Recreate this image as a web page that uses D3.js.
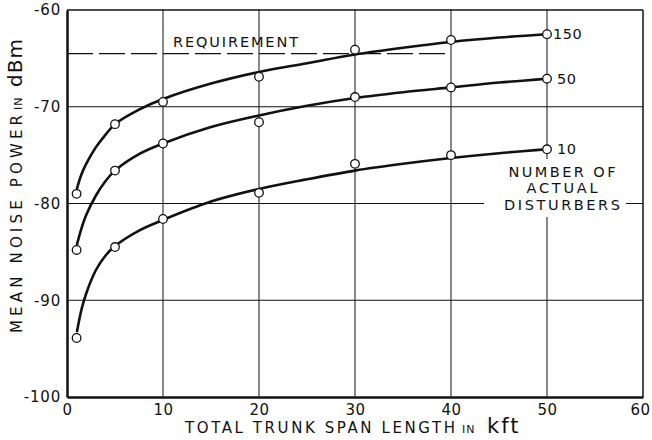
<!DOCTYPE html>
<html>
<head>
<meta charset="utf-8">
<script src="https://cdn.jsdelivr.net/npm/d3@7"></script>
<style>
  html, body { margin: 0; padding: 0; background: #fff; }
  svg { display: block; }
  text { font-family: "DejaVu Sans", "Liberation Sans", sans-serif; fill: #111; }
</style>
</head>
<body>
<svg id="chart" width="652" height="440"></svg>
<script>
// Measured trunk span lengths (kft) and mean noise power (dBm) per disturber count
const lengths = [1, 5, 10, 20, 30, 40, 50];
const noise150 = [-79.0, -71.8, -69.5, -66.9, -64.1, -63.1, -62.5];
const noise50  = [-84.8, -76.6, -73.8, -71.6, -69.0, -68.0, -67.1];
const noise10  = [-93.9, -84.5, -81.6, -78.9, -75.9, -75.0, -74.4];

// Smoothed (faired) curves drawn through the measurements
const fitLengths = [1.05, 1.5, 2, 3, 4, 5, 7.5, 10, 15, 20, 25, 30, 35, 40, 45, 50];
const fit150 = [-78.4, -77.0, -75.9, -74.2, -72.9, -71.8, -70.3, -69.2, -67.6, -66.4, -65.5, -64.6, -63.9, -63.3, -62.85, -62.5];
const fit50  = [-84.2, -82.6, -81.2, -79.2, -77.7, -76.6, -74.9, -73.8, -72.1, -70.9, -69.9, -69.1, -68.5, -68.0, -67.5, -67.1];
const fit10  = [-93.2, -91.0, -89.3, -86.9, -85.4, -84.4, -82.8, -81.7, -79.8, -78.5, -77.5, -76.6, -75.9, -75.3, -74.8, -74.4];

const seriesNames = ["150", "50", "10"];
const requirement = -64.5;
const requirementEnd = 40;

const xTicks = [0, 10, 20, 30, 40, 50, 60];
const yTicks = [-100, -90, -80, -70, -60];

const svg = d3.select("#chart");
const x = d3.scaleLinear().domain([0, 60]).range([67, 643]);
const y = d3.scaleLinear().domain([-100, -60]).range([397, 10]);
const ink = "#111";

// Grid lines
const grid = svg.append("g");
grid.selectAll("line.v").data(xTicks.slice(1, -1)).join("line")
  .attr("x1", d => x(d)).attr("x2", d => x(d))
  .attr("y1", y(-60)).attr("y2", y(-100))
  .attr("stroke", ink).attr("stroke-width", 1);
grid.selectAll("line.h").data(yTicks.slice(1, -1)).join("line")
  .attr("x1", x(0)).attr("x2", x(60))
  .attr("y1", d => y(d)).attr("y2", d => y(d))
  .attr("stroke", ink).attr("stroke-width", 1);

// Frame: top and right edges
svg.append("line").attr("x1", x(0)).attr("x2", x(60)).attr("y1", y(-60)).attr("y2", y(-60))
  .attr("stroke", ink).attr("stroke-width", 1.5);
svg.append("line").attr("x1", x(60)).attr("x2", x(60)).attr("y1", y(-60)).attr("y2", y(-100))
  .attr("stroke", ink).attr("stroke-width", 1.5);

// Axes
const fmt = d => (d < 0 ? "-" : "") + Math.abs(d);
const xAxis = svg.append("g").attr("transform", `translate(0,${y(-100)})`)
  .call(d3.axisBottom(x).tickValues(xTicks).tickSize(0).tickPadding(7).tickFormat(fmt));
const yAxis = svg.append("g").attr("transform", `translate(${x(0)},0)`)
  .call(d3.axisLeft(y).tickValues(yTicks).tickSize(0).tickPadding(6).tickFormat(fmt));
[xAxis, yAxis].forEach(a => {
  a.select(".domain").attr("stroke", ink).attr("stroke-width", 2.5);
  a.selectAll("text").attr("font-size", 15).attr("fill", ink);
});
yAxis.selectAll("text").attr("letter-spacing", 0.8);
xAxis.selectAll("text").attr("letter-spacing", 0.5)
  .attr("dx", d => d === 60 ? -3 : 0);

// Requirement line
svg.append("line")
  .attr("x1", x(0)).attr("x2", x(requirementEnd))
  .attr("y1", y(requirement)).attr("y2", y(requirement))
  .attr("stroke", ink).attr("stroke-width", 1.3).attr("stroke-dasharray", "26,6");
svg.append("text").attr("x", 173).attr("y", y(requirement) - 7)
  .attr("font-size", 14.5).attr("textLength", 125).attr("lengthAdjust", "spacing")
  .text("REQUIREMENT");

// White panel behind the disturber-count caption
svg.append("rect").attr("x", 484).attr("y", 159).attr("width", 142).attr("height", 58).attr("fill", "#fff");

// Curves and measured points
const line = d3.line().x(d => x(d[0])).y(d => y(d[1])).curve(d3.curveCatmullRom.alpha(0.5));
const fits = [fit150, fit50, fit10];
const pts = [noise150, noise50, noise10];

fits.forEach(f => {
  svg.append("path").datum(fitLengths.map((L, i) => [L, f[i]]))
    .attr("d", line).attr("fill", "none").attr("stroke", ink).attr("stroke-width", 2.6)
    .attr("stroke-linecap", "round");
});
pts.forEach((p, k) => {
  svg.append("g").selectAll("circle").data(lengths.map((L, i) => [L, p[i]])).join("circle")
    .attr("cx", d => x(d[0])).attr("cy", d => y(d[1])).attr("r", 4.3)
    .attr("fill", "#fff").attr("stroke", ink).attr("stroke-width", 1.3);
  svg.append("text")
    .attr("x", x(lengths[lengths.length - 1]) + (seriesNames[k].length === 3 ? 6 : 10))
    .attr("y", y(p[p.length - 1]) + 5)
    .attr("font-size", 14.5).attr("letter-spacing", 0.5)
    .text(seriesNames[k]);
});

// Caption for the curve labels
const cap = [["NUMBER OF", 177, 107], ["ACTUAL", 193, 71], ["DISTURBERS", 210, 116]];
cap.forEach(c => {
  svg.append("text").attr("x", 562 - c[2] / 2).attr("y", c[1])
    .attr("font-size", 14.5).attr("textLength", c[2]).attr("lengthAdjust", "spacing")
    .text(c[0]);
});

// Axis titles
const xt = svg.append("text").attr("y", 433);
xt.append("tspan").attr("x", 185).attr("font-size", 15).attr("textLength", 270).attr("lengthAdjust", "spacing").text("TOTAL TRUNK SPAN LENGTH");
xt.append("tspan").attr("x", 462).attr("font-size", 11).attr("letter-spacing", 1).text("IN");
xt.append("tspan").attr("x", 487).attr("font-size", 21).attr("letter-spacing", 2).text("kft");

const yt = svg.append("text").attr("transform", "translate(22,0) rotate(-90)");
yt.append("tspan").attr("x", -333).attr("font-size", 15).attr("textLength", 218).attr("lengthAdjust", "spacing").text("MEAN NOISE POWER");
yt.append("tspan").attr("x", -110).attr("font-size", 11).attr("letter-spacing", 1).text("IN");
yt.append("tspan").attr("x", -87).attr("font-size", 20).attr("letter-spacing", 1).text("dBm");
</script>
</body>
</html>
